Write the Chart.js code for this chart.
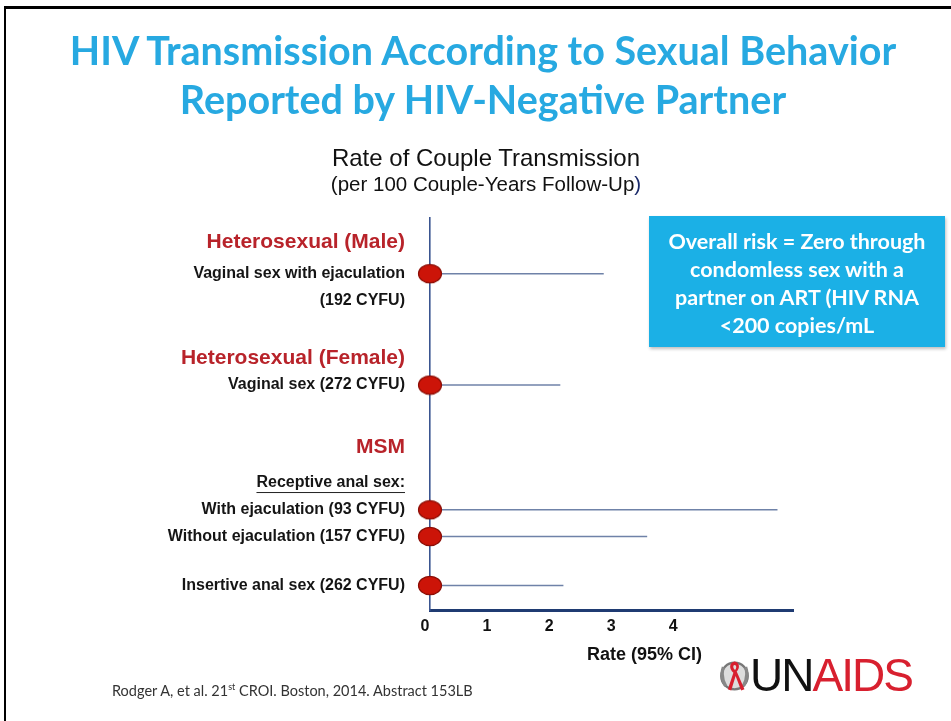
<!DOCTYPE html>
<html>
<head>
<meta charset="utf-8">
<script src="https://cdn.jsdelivr.net/npm/chart.js@4"></script>
<style>
  html, body { margin: 0; padding: 0; background: #fff; }
  #slide { position: relative; width: 951px; height: 721px; overflow: hidden; }
  #chart { position: absolute; left: 0; top: 0; }
  .abs { position: absolute; white-space: nowrap; }
  #border-top { left: 4px; top: 6px; width: 947px; height: 3px; background: #000; }
  #border-left { left: 4px; top: 6px; width: 2px; height: 715px; background: #000; }
  .title { left: 0; width: 966px; text-align: center; font-family: Lato, "Open Sans", sans-serif; font-weight: 700; color: #27a9e1; font-size: 39.5px; }
  .sub { left: 0; width: 972px; text-align: center; font-family: "Liberation Sans", Arial, sans-serif; color: #111; }
  #box { left: 649px; top: 216px; width: 296px; height: 131px; background: #1bb0e6; box-shadow: 1px 2px 3px rgba(0,0,0,0.25);
         color: #fff; font-family: Lato, "Open Sans", sans-serif; font-weight: 700; font-size: 21.5px; line-height: 28px;
         text-align: center; padding-top: 11px; box-sizing: border-box; }
  #xtitle { left: 587px; top: 644px; font-family: "Liberation Sans", Arial, sans-serif; font-weight: 700; font-size: 18px; color: #111; }
  #cite { left: 112px; top: 681px; font-family: Lato, "Open Sans", sans-serif; font-size: 14.5px; color: #333; }
  #cite sup { font-size: 9px; }
  #logo { left: 719px; top: 648px; height: 46px; }
  #logo .un { font-family: "Liberation Sans", Arial, sans-serif; font-size: 46px; letter-spacing: -2px; color: #111; }
  #logo .aids { font-family: "Liberation Sans", Arial, sans-serif; font-size: 46px; letter-spacing: -2px; color: #d8202f; }
</style>
</head>
<body>
<div id="slide">
  <canvas id="chart" width="951" height="721"></canvas>
  <div class="abs" id="border-top"></div>
  <div class="abs" id="border-left"></div>
  <div class="abs title" style="top:26px;">HIV Transmission According to Sexual Behavior</div>
  <div class="abs title" style="top:75px;">Reported by HIV-Negative Partner</div>
  <div class="abs sub" style="top:144px; font-size:24px;">Rate of Couple Transmission</div>
  <div class="abs sub" style="top:172px; font-size:20.5px;">(per 100 Couple-Years Follow-Up<span style="color:#1a2a6a">)</span></div>
  <div class="abs" id="box">Overall risk = Zero through<br>condomless sex with a<br>partner on ART (HIV RNA<br>&lt;200 copies/mL</div>
  <div class="abs" id="xtitle">Rate (95% CI)</div>
  <div class="abs" id="cite">Rodger A, et al. 21<sup>st</sup> CROI. Boston, 2014. Abstract 153LB</div>
  <div class="abs" id="logo">
    <svg width="31" height="40" viewBox="0 0 28 36" style="vertical-align:-5px">
      <circle cx="14" cy="18" r="12" fill="#ddd" stroke="#777" stroke-width="2"/>
      <path d="M4 10 Q1 18 6 27 M24 10 Q27 18 22 27" stroke="#888" stroke-width="3" fill="none"/>
      <path d="M14 5 C9 6 9 12 13 15 L8 30 L11 31 L15 18 L20 31 L23 30 L16 14 C19 11 19 6 14 5 Z M14 8 C16 8 16 11 14.5 12.5 C12.5 11 12.5 8 14 8 Z" fill="#d8202f"/>
    </svg><span class="un">UN</span><span class="aids">AIDS</span>
  </div>
</div>
<script>
// text lines down the left side, top to bottom
const rowLines = ['Heterosexual (Male)', 'Vaginal sex with ejaculation', '(192 CYFU)',
  'Heterosexual (Female)', 'Vaginal sex (272 CYFU)', 'MSM', 'Receptive anal sex:',
  'With ejaculation (93 CYFU)', 'Without ejaculation (157 CYFU)', 'Insertive anal sex (262 CYFU)'];
const headings = ['Heterosexual (Male)', 'Heterosexual (Female)', 'MSM'];

// the plotted behaviours
const categories = ['Vaginal sex with ejaculation', 'Vaginal sex (272 CYFU)',
  'With ejaculation (93 CYFU)', 'Without ejaculation (157 CYFU)', 'Insertive anal sex (262 CYFU)'];
const rates = [0, 0, 0, 0, 0];
const ciLower = [0, 0, 0, 0, 0];
const ciUpper = [2.8, 2.1, 5.6, 3.5, 2.15];
const xTicks = [0, 1, 2, 3, 4];

// layout: vertical slot of each text line on the y axis
const SLOT_COUNT = 88;
const rowSlots = [5, 12, 18, 31, 37, 51, 59, 65, 71, 82];
const yLabels = new Array(SLOT_COUNT).fill('');
rowLines.forEach((t, i) => yLabels[rowSlots[i]] = t);

const RED = '#b8232a';
const FONT = '"Liberation Sans", Arial, sans-serif';
const LABEL_PAD = 25;

// red ellipse used as the point marker
function makeDot() {
    const c = document.createElement('canvas');
    c.width = 26; c.height = 21;
    const g = c.getContext('2d');
    g.beginPath();
    g.ellipse(13, 10.5, 11.5, 9.2, 0, 0, Math.PI * 2);
    g.fillStyle = '#cc1408';
    g.fill();
    g.lineWidth = 1.2;
    g.strokeStyle = '#8c0e06';
    g.stroke();
    return c;
}

const underline = {
    id: 'underline',
    afterDraw(chart) {
        const y = chart.scales.y;
        const idx = yLabels.indexOf('Receptive anal sex:');
        const py = y.getPixelForValue(idx);
        const ctx = chart.ctx;
        ctx.save();
        ctx.font = 'bold 16px ' + FONT;
        const w = ctx.measureText('Receptive anal sex:').width;
        const right = chart.chartArea.left - LABEL_PAD;
        ctx.strokeStyle = '#222';
        ctx.lineWidth = 1;
        ctx.beginPath();
        ctx.moveTo(right - w, py + 9.5);
        ctx.lineTo(right, py + 9.5);
        ctx.stroke();
        ctx.restore();
    }
};

const ciSets = categories.map((c, i) => ({
    type: 'line',
    data: [{ x: ciLower[i], y: c }, { x: ciUpper[i], y: c }],
    borderColor: '#6f82a8',
    borderWidth: 1.6,
    pointRadius: 0,
    clip: false,
    order: 2
}));

new Chart(document.getElementById('chart'), {
    type: 'scatter',
    data: {
        datasets: [{
            data: categories.map((c, i) => ({ x: rates[i], y: c })),
            pointStyle: makeDot(),
            pointRadius: 10,
            clip: false,
            order: 1
        }, ...ciSets]
    },
    options: {
        responsive: false,
        animation: false,
        devicePixelRatio: 1,
        layout: { padding: { top: 218, right: 158, bottom: 0, left: 0 } },
        plugins: { legend: { display: false }, tooltip: { enabled: false } },
        scales: {
            x: {
                type: 'linear', min: 0, max: 5.85,
                afterBuildTicks: s => { s.ticks = xTicks.map(v => ({ value: v })); },
                afterFit: s => { s.height = 111; },
                grid: { display: false, drawTicks: false },
                border: { color: '#1f3b72', width: 3 },
                ticks: {
                    color: '#111', padding: 7, labelOffset: -5,
                    font: { family: FONT, size: 16, weight: 'bold' }
                }
            },
            y: {
                type: 'category', labels: yLabels, offset: true,
                afterFit: s => { s.width = 430; },
                grid: { display: false, drawTicks: false },
                border: { color: '#3a5590', width: 1.6 },
                ticks: {
                    autoSkip: false, padding: LABEL_PAD,
                    color: ctx => headings.includes(ctx.tick.label) ? RED : '#151515',
                    font: ctx => headings.includes(ctx.tick.label)
                        ? { family: FONT, size: 21, weight: 'bold' }
                        : { family: FONT, size: 16, weight: 'bold' }
                }
            }
        }
    },
    plugins: [underline]
});
</script>
</body>
</html>
